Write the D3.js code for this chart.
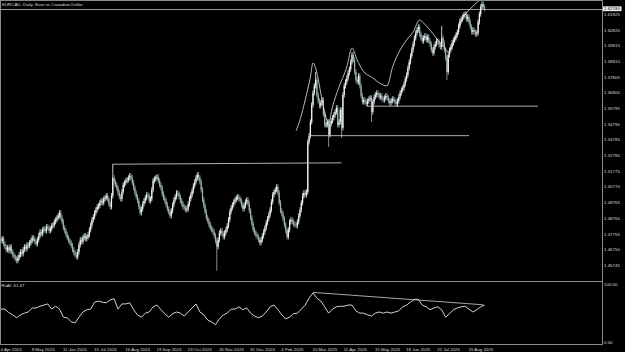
<!DOCTYPE html>
<html>
<head>
<meta charset="utf-8">
<script src="https://cdn.jsdelivr.net/npm/d3@7"></script>
<style>
  html, body { margin: 0; padding: 0; background: #000; }
  svg { display: block; }
  text { font-family: "Liberation Sans", Arial, sans-serif; font-size: 4.4px; fill: #d8d8d8; }
</style>
</head>
<body>
<script>
// daily closes, 4 Apr 2024 .. early Sep 2025
var closes = [
  1.4732, 1.4744, 1.4712, 1.4693, 1.4674, 1.4687, 1.4668, 1.4693, 1.4661, 1.4642,
  1.4629, 1.4616, 1.4604, 1.4623, 1.4642, 1.4661, 1.4648, 1.4674, 1.4693, 1.4680,
  1.4706, 1.4700, 1.4719, 1.4732, 1.4751, 1.4744, 1.4725, 1.4712, 1.4738, 1.4764,
  1.4789, 1.4776, 1.4802, 1.4808, 1.4796, 1.4821, 1.4815, 1.4796, 1.4808, 1.4828,
  1.4834, 1.4853, 1.4866, 1.4879, 1.4892, 1.4911, 1.4879, 1.4853, 1.4815, 1.4796,
  1.4770, 1.4751, 1.4732, 1.4719, 1.4700, 1.4674, 1.4655, 1.4642, 1.4629, 1.4661,
  1.4706, 1.4738, 1.4725, 1.4751, 1.4764, 1.4744, 1.4757, 1.4770, 1.4802, 1.4834,
  1.4866, 1.4885, 1.4911, 1.4930, 1.4949, 1.4956, 1.4975, 1.4988, 1.4975, 1.5000,
  1.5007, 1.5020, 1.5000, 1.4968, 1.4949, 1.5020, 1.5135, 1.5109, 1.5090, 1.5071,
  1.5039, 1.5013, 1.5000, 1.5045, 1.5090, 1.5103, 1.5116, 1.5122, 1.5135, 1.5148,
  1.5135, 1.5103, 1.5071, 1.5039, 1.5013, 1.4988, 1.4949, 1.4911, 1.4936, 1.4968,
  1.4988, 1.5007, 1.5026, 1.5020, 1.4988, 1.5000, 1.5058, 1.5116, 1.5128, 1.5135,
  1.5141, 1.5116, 1.5090, 1.5071, 1.5032, 1.5007, 1.4988, 1.4962, 1.4936, 1.4917,
  1.4892, 1.4924, 1.4962, 1.4994, 1.5013, 1.5039, 1.5032, 1.5013, 1.4988, 1.4968,
  1.4949, 1.4943, 1.4930, 1.4936, 1.4968, 1.5000, 1.5026, 1.5052, 1.5084, 1.5109,
  1.5135, 1.5154, 1.5135, 1.5109, 1.5058, 1.4994, 1.4956, 1.4917, 1.4879, 1.4860,
  1.4834, 1.4815, 1.4802, 1.4789, 1.4764, 1.4732, 1.4693, 1.4738, 1.4783, 1.4796,
  1.4776, 1.4757, 1.4783, 1.4802, 1.4828, 1.4866, 1.4917, 1.4943, 1.4962, 1.4981,
  1.4994, 1.5007, 1.5013, 1.5000, 1.4988, 1.4962, 1.4936, 1.4956, 1.4981, 1.4994,
  1.4968, 1.4924, 1.4879, 1.4840, 1.4802, 1.4783, 1.4770, 1.4757, 1.4738, 1.4719,
  1.4738, 1.4764, 1.4789, 1.4815, 1.4847, 1.4872, 1.4898, 1.4930, 1.4981, 1.5026,
  1.5045, 1.5058, 1.5077, 1.5039, 1.4975, 1.4924, 1.4904, 1.4872, 1.4834, 1.4796,
  1.4757, 1.4802, 1.4853, 1.4866, 1.4853, 1.4840, 1.4834, 1.4828, 1.4853, 1.4892,
  1.4930, 1.4975, 1.5020, 1.5039, 1.5026, 1.5045, 1.5365, 1.5404, 1.5493, 1.5602,
  1.5679, 1.5724, 1.5762, 1.5666, 1.5628, 1.5596, 1.5615, 1.5634, 1.5544, 1.5474,
  1.5474, 1.5493, 1.5410, 1.5480, 1.5500, 1.5519, 1.5538, 1.5557, 1.5583, 1.5474,
  1.5493, 1.5570, 1.5455, 1.5666, 1.5724, 1.5749, 1.5775, 1.5807, 1.5832, 1.5877,
  1.5922, 1.5890, 1.5813, 1.5762, 1.5749, 1.5788, 1.5724, 1.5660, 1.5621, 1.5634,
  1.5621, 1.5608, 1.5628, 1.5640, 1.5647, 1.5557, 1.5621, 1.5653, 1.5666, 1.5679,
  1.5666, 1.5653, 1.5660, 1.5640, 1.5634, 1.5647, 1.5660, 1.5647, 1.5628, 1.5615,
  1.5628, 1.5640, 1.5634, 1.5621, 1.5608, 1.5628, 1.5653, 1.5679, 1.5698, 1.5711,
  1.5736, 1.5768, 1.5794, 1.5839, 1.5877, 1.5916, 1.5954, 1.5992, 1.6031, 1.6063,
  1.6082, 1.6101, 1.6056, 1.6031, 1.6012, 1.6031, 1.6044, 1.6018, 1.6037, 1.6012,
  1.5992, 1.5954, 1.5935, 1.5973, 1.5992, 1.6012, 1.6005, 1.5986, 1.5973, 1.6031,
  1.5999, 1.5954, 1.5903, 1.5813, 1.5922, 1.5954, 1.5973, 1.5999, 1.6018, 1.6031,
  1.6050, 1.6069, 1.6108, 1.6140, 1.6152, 1.6165, 1.6178, 1.6184, 1.6152, 1.6165,
  1.6133, 1.6101, 1.6069, 1.6082, 1.6069, 1.6056, 1.6063, 1.6133, 1.6184, 1.6229,
  1.6248, 1.6229, 1.6218
];
var firstOpen = 1.4738;

// long wicks that stand out
var spikeBars   = [86, 166, 242, 252, 262, 270, 285, 339, 343];
var spikePrices = [1.5224, 1.4540, 1.5813, 1.5333, 1.5391, 1.5941, 1.5493, 1.6108, 1.5762];

// indicator, one reading every 3rd bar
var rsiStep = 3;
var rsi = [
  57, 57, 51, 47, 42, 47, 50, 52, 59, 59,
  62, 64, 66, 57, 62, 57, 43, 42, 35, 33,
  43, 52, 56, 57, 69, 71, 69, 68, 73, 75,
  57, 66, 66, 68, 56, 47, 43, 50, 52, 61,
  64, 56, 49, 43, 49, 52, 50, 45, 52, 59,
  66, 52, 47, 38, 35, 30, 40, 47, 50, 57,
  57, 61, 56, 59, 50, 45, 42, 45, 52, 61,
  64, 56, 47, 40, 43, 49, 50, 57, 64, 76,
  85, 76, 71, 61, 50, 57, 61, 62, 62, 64,
  64, 54, 50, 50, 47, 45, 50, 52, 50, 52,
  50, 52, 54, 61, 64, 69, 74, 74, 64, 61,
  56, 59, 61, 56, 43, 49, 56, 59, 61, 62,
  57, 52, 56, 61, 64
];
var rsiLast = 61.47;

// curved swing line drawn over price
var swingBars   = [227, 230, 234, 238, 240, 243, 247, 252, 255, 260, 266, 270, 274, 278, 286, 291, 297, 301, 307, 312, 317, 322, 325, 330, 336, 341, 344, 351, 355, 358, 368, 372];
var swingPrices = [1.5436, 1.5506, 1.5634, 1.5781, 1.5871, 1.5807, 1.5634, 1.5487, 1.5589, 1.5717, 1.5845, 1.5967, 1.5890, 1.5826, 1.5775, 1.5743, 1.5724, 1.5839, 1.5954, 1.6018, 1.6069, 1.6146, 1.6127, 1.6082, 1.6018, 1.5973, 1.5941, 1.6063, 1.6159, 1.6191, 1.6274, 1.6310];

// horizontal levels: start bar, end bar, price at start, price at end
var levelFrom = [86, 237, 282];
var levelTo   = [262, 360, 413];
var levelP1   = [1.5222, 1.5405, 1.5594];
var levelP2   = [1.5231, 1.5405, 1.5594];

// trend line on the indicator
var rsiLineBars = [240, 371];
var rsiLineVals = [86, 64.5];

var lastPrice = 1.62180;
var priceTicks = ["1.45745", "1.46750", "1.47755", "1.48760", "1.49765", "1.50770", "1.51775", "1.52780", "1.53785",
                  "1.54790", "1.55795", "1.56800", "1.57805", "1.58810", "1.59815", "1.60820", "1.61825"];
var dateStep = 24;
var dateLabels = ["4 Apr 2024", "8 May 2024", "11 Jun 2024", "15 Jul 2024", "16 Aug 2024", "19 Sep 2024",
                  "23 Oct 2024", "26 Nov 2024", "31 Dec 2024", "4 Feb 2025", "10 Mar 2025", "11 Apr 2025",
                  "15 May 2025", "18 Jun 2025", "22 Jul 2025", "25 Aug 2025"];

var W = 625, H = 352;
var right = 602, mainTop = 1, mainBottom = 281, subBottom = 344;

var svg = d3.select("body").append("svg")
  .attr("width", W).attr("height", H);

var x = d3.scaleLinear().domain([0, 360]).range([1, 469]);
var y = d3.scaleLinear().domain([1.45745, 1.61825]).range([265.3, 14.3]);
var yr = d3.scaleLinear().domain([0, 100]).range([342, 284.3]);

svg.append("defs").append("clipPath").attr("id", "mainclip")
  .append("rect").attr("x", 0).attr("y", mainTop).attr("width", right).attr("height", mainBottom - mainTop);

// ---- frame ----
var frame = svg.append("g").attr("stroke", "#8a8a8a").attr("stroke-width", 1).attr("shape-rendering", "crispEdges");
frame.append("line").attr("x1", 0).attr("x2", right).attr("y1", 0.5).attr("y2", 0.5);
frame.append("line").attr("x1", 0.5).attr("x2", 0.5).attr("y1", 0).attr("y2", subBottom);
frame.append("line").attr("x1", right + 0.5).attr("x2", right + 0.5).attr("y1", 0).attr("y2", subBottom + 0.5);
frame.append("line").attr("x1", 0).attr("x2", right).attr("y1", mainBottom + 0.5).attr("y2", mainBottom + 0.5);
frame.append("line").attr("x1", 0).attr("x2", right).attr("y1", subBottom + 0.5).attr("y2", subBottom + 0.5);

var main = svg.append("g").attr("clip-path", "url(#mainclip)");

// bid line
main.append("line")
  .attr("x1", 0).attr("x2", right)
  .attr("y1", Math.round(y(lastPrice)) + 0.5).attr("y2", Math.round(y(lastPrice)) + 0.5)
  .attr("stroke", "#9a9a9a").attr("stroke-width", 1).attr("shape-rendering", "crispEdges");

// ---- candles ----
var wick = 2.6;
var bars = closes.map(function(c, i){
  var o = i > 0 ? closes[i - 1] : firstOpen;
  var hi = y(Math.max(o, c)) - wick, lo = y(Math.min(o, c)) + wick;
  var k = spikeBars.indexOf(i);
  if (k >= 0) {
    var sy = y(spikePrices[k]);
    hi = Math.min(hi, sy); lo = Math.max(lo, sy);
  }
  return {i: i, o: o, c: c, hi: hi, lo: lo};
});

var candle = main.selectAll("g.candle").data(bars).enter().append("g").attr("class", "candle");
candle.append("line")
  .attr("x1", function(d){ return x(d.i); })
  .attr("x2", function(d){ return x(d.i); })
  .attr("y1", function(d){ return d.hi; })
  .attr("y2", function(d){ return d.lo; })
  .attr("stroke", function(d){ return d.c >= d.o ? "#d8e4e4" : "#8da3a3"; })
  .attr("stroke-width", 0.9);
candle.append("rect")
  .attr("x", function(d){ return x(d.i) - 0.6; })
  .attr("width", 1.2)
  .attr("y", function(d){ return Math.min(y(d.o), y(d.c)); })
  .attr("height", function(d){ return Math.max(0.8, Math.abs(y(d.o) - y(d.c))); })
  .attr("fill", function(d){ return d.c >= d.o ? "#f4f8f8" : "#9fb5b5"; });

// ---- levels ----
levelFrom.forEach(function(f, k){
  main.append("line")
    .attr("x1", x(f)).attr("x2", x(levelTo[k]))
    .attr("y1", y(levelP1[k])).attr("y2", y(levelP2[k]))
    .attr("stroke", "#c4c4c4").attr("stroke-width", 0.9);
});

// ---- swing curve ----
var swing = swingBars.map(function(b, k){ return [b, swingPrices[k]]; });
main.append("path")
  .datum(swing)
  .attr("fill", "none")
  .attr("stroke", "#e6e6e6")
  .attr("stroke-width", 0.8)
  .attr("d", d3.line()
    .x(function(d){ return x(d[0]); })
    .y(function(d){ return y(d[1]); })
    .curve(d3.curveMonotoneX));

// ---- price axis ----
svg.selectAll("text.ptick").data(priceTicks).enter().append("text")
  .attr("class", "ptick")
  .attr("x", 604)
  .attr("y", function(d){ return y(+d) + 1.6; })
  .text(function(d){ return d; });

svg.append("rect")
  .attr("x", 603).attr("y", y(lastPrice) - 2.4)
  .attr("width", 18.5).attr("height", 4.8)
  .attr("fill", "#f2f2f2");
svg.append("text")
  .attr("x", 604).attr("y", y(lastPrice) + 1.6)
  .style("fill", "#000")
  .text(lastPrice.toFixed(5));

// title
svg.append("text").attr("x", 2).attr("y", 6)
  .text("EURCAD, Daily:  Euro vs Canadian Dollar");

// ---- indicator panel ----
var sub = svg.append("g");
sub.append("path")
  .datum(rsi)
  .attr("fill", "none")
  .attr("stroke", "#c9d6d6")
  .attr("stroke-width", 1)
  .attr("d", d3.line()
    .x(function(d, k){ return x(k * rsiStep); })
    .y(function(d){ return yr(d); }));

sub.append("line")
  .attr("x1", x(rsiLineBars[0])).attr("x2", x(rsiLineBars[1]))
  .attr("y1", yr(rsiLineVals[0])).attr("y2", yr(rsiLineVals[1]))
  .attr("stroke", "#d0d0d0").attr("stroke-width", 0.8);

svg.append("text").attr("x", 1.5).attr("y", 287)
  .text("RsAI: " + rsiLast.toFixed(2));
svg.append("text").attr("x", 604).attr("y", yr(100) + 1.6).text("100.00");
svg.append("text").attr("x", 604).attr("y", yr(0) + 1.6).text("0.00");

// ---- time axis ----
svg.selectAll("text.dtick").data(dateLabels).enter().append("text")
  .attr("class", "dtick")
  .attr("x", function(d, k){ return x(k * dateStep) - 0.5; })
  .attr("y", 350.5)
  .text(function(d){ return d; });
</script>
</body>
</html>
